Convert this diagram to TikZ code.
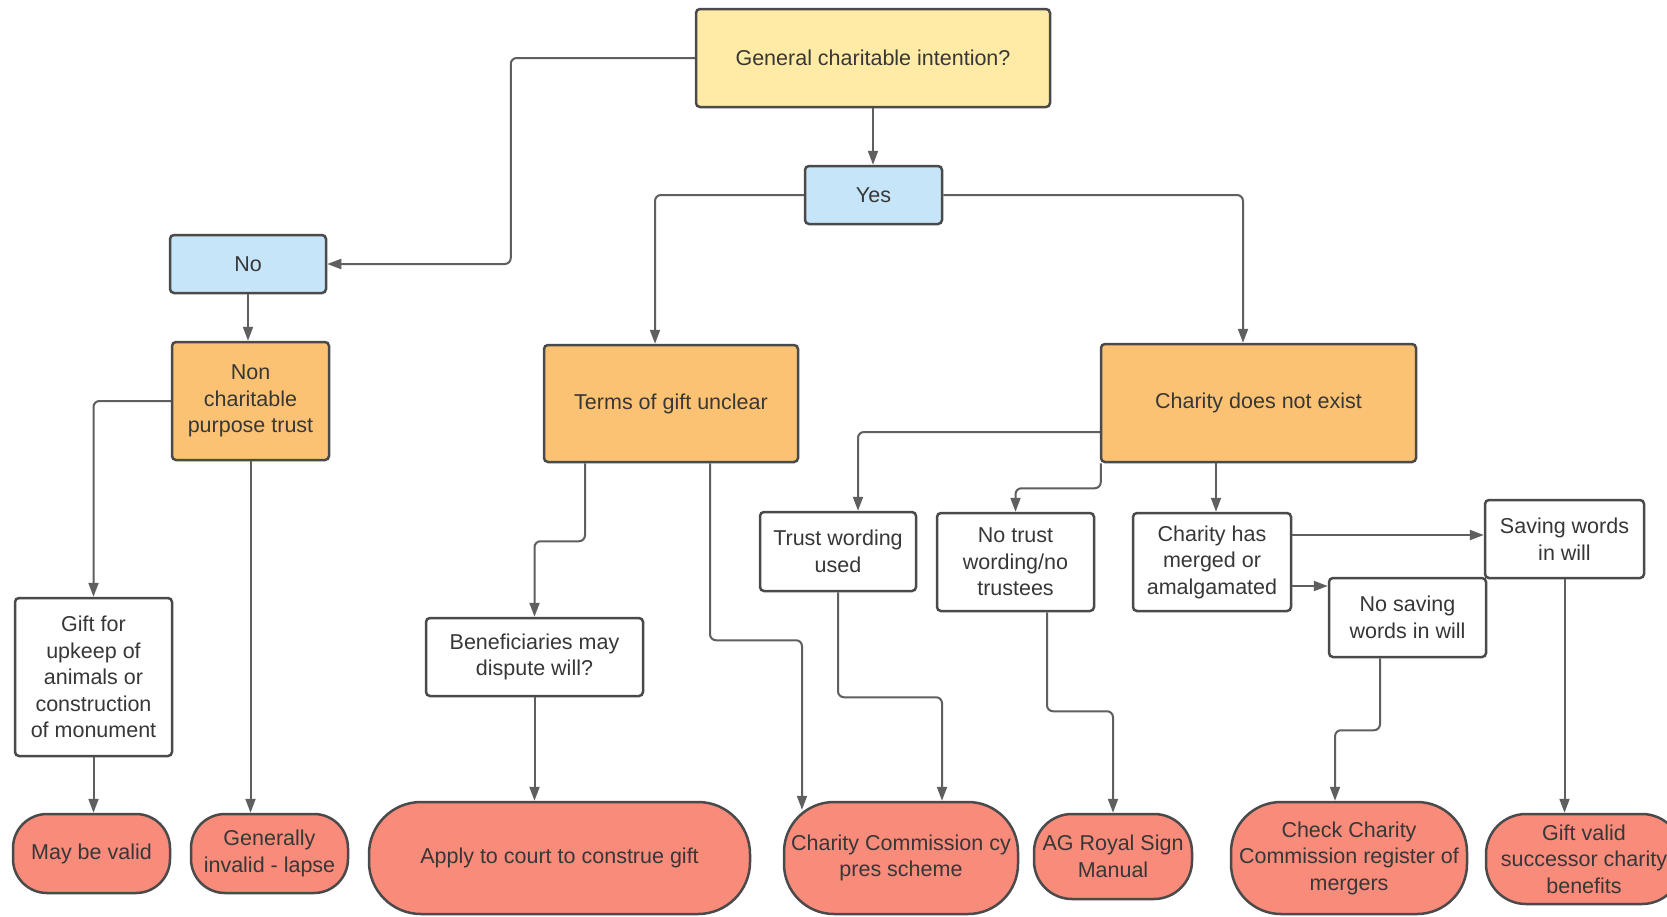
\documentclass[tikz,border=0pt]{standalone}
\usepackage{fontspec}
\setmainfont{Liberation Sans}
\usetikzlibrary{arrows.meta}
\definecolor{cyel}{RGB}{255,234,166}
\definecolor{cblue}{RGB}{199,229,248}
\definecolor{corange}{RGB}{252,194,115}
\definecolor{cred}{RGB}{249,139,123}
\definecolor{cline}{RGB}{74,74,74}
\definecolor{carrow}{RGB}{95,95,95}
\definecolor{ctext}{RGB}{55,55,55}
\tikzset{
  base/.style={draw=cline, line width=2.5pt, inner sep=0pt, align=center,
    text=ctext, font=\fontsize{21.5}{26.5}\selectfont},
  box/.style={base, rounded corners=4pt, fill=white},
  yelbox/.style={box, fill=cyel},
  bluebox/.style={box, fill=cblue},
  orabox/.style={box, fill=corange},
  term/.style={base, fill=cred},
  conn/.style={draw=carrow, line width=2pt, rounded corners=6pt,
    -{Triangle[length=14pt,width=10pt]}},
}
\begin{document}
\begin{tikzpicture}[x=1pt,y=-1pt]
\useasboundingbox[fill=white] (0,0) rectangle (1667,916);
% decision / process boxes
\node[yelbox, minimum width=354pt, minimum height=98pt] (gen) at (873,58) {General charitable intention?};
\node[bluebox, minimum width=137pt, minimum height=58pt] (yes) at (873.5,195) {Yes};
\node[bluebox, minimum width=156pt, minimum height=58pt] (no) at (248,264) {No};
\node[orabox, minimum width=157pt, minimum height=118pt] (nc) at (250.5,401) {Non\\charitable\\purpose trust};
\node[orabox, minimum width=254pt, minimum height=117pt] (terms) at (671,403.5) {Terms of gift unclear};
\node[orabox, minimum width=315pt, minimum height=118pt] (cdne) at (1258.5,403) {Charity does not exist};
\node[box, minimum width=157pt, minimum height=158pt] (gift) at (93.5,677) {Gift for\\upkeep of\\animals or\\construction\\of monument};
\node[box, minimum width=217pt, minimum height=78pt] (bene) at (534.5,657) {Beneficiaries may\\dispute will?};
\node[box, minimum width=156pt, minimum height=79pt] (tw) at (838,551.5) {Trust wording\\used};
\node[box, minimum width=157pt, minimum height=98pt] (ntw) at (1015.5,562) {No trust\\wording/no\\trustees};
\node[box, minimum width=158pt, minimum height=98pt] (merged) at (1212,562) {Charity has\\merged or\\amalgamated};
\node[box, minimum width=159pt, minimum height=78pt] (saving) at (1564.5,539) {Saving words\\in will};
\node[box, minimum width=157pt, minimum height=79pt] (nosaving) at (1407.5,617.5) {No saving\\words in will};
% terminals
\node[term, rounded corners=34pt, minimum width=157pt, minimum height=79pt] (valid) at (91.5,853.5) {May be valid};
\node[term, rounded corners=34pt, minimum width=157pt, minimum height=79pt] (invalid) at (269.5,853.5) {Generally\\invalid - lapse};
\node[term, rounded corners=52pt, minimum width=381pt, minimum height=112pt] (court) at (559.5,858) {Apply to court to construe gift};
\node[term, rounded corners=50pt, minimum width=234pt, minimum height=112pt] (ccy) at (901,858) {Charity Commission cy\\pres scheme};
\node[term, rounded corners=38pt, minimum width=158pt, minimum height=85pt] (ag) at (1113,856.5) {AG Royal Sign\\Manual};
\node[term, rounded corners=50pt, minimum width=236pt, minimum height=112pt] (check) at (1349,858) {Check Charity\\Commission register of\\mergers};
\node[term, rounded corners=40pt, minimum width=196pt, minimum height=90pt] (giftvalid) at (1584,859) {Gift valid\\successor charity\\benefits};
% connectors
\draw[conn] (gen.west) -- ++(-184,0) |- (no.east);
\draw[conn] (gen.south) -- (gen.south |- yes.north);
\draw[conn] (yes.west) -| ([xshift=-16pt]terms.north);
\draw[conn] (yes.east) -| ([xshift=-15.5pt]cdne.north);
\draw[conn] (no.south) -- (no.south |- nc.north);
\draw[conn] (nc.west) -| (gift.north);
\draw[conn] (nc.south) -- (nc.south |- invalid.north);
\draw[conn] (gift.south) -- (gift.south |- valid.north);
\draw[conn] ([xshift=-86pt]terms.south) -- ++(0,78) -| (bene.north);
\draw[conn] ([xshift=39pt]terms.south) -- ++(0,177) -| ([xshift=-99pt,yshift=-9pt]ccy.north);
\draw[conn] (bene.south) -- (bene.south |- court.north);
\draw[conn] ([yshift=-29pt]cdne.west) -| ([xshift=20pt]tw.north);
\draw[conn] ([xshift=1pt]cdne.south west) -- ++(0,25) -| (ntw.north);
\draw[conn] ([xshift=-42.5pt]cdne.south) -- ([xshift=-42.5pt]cdne.south |- merged.north);
\draw[conn] (tw.south) -- ++(0,105) -| ([xshift=41pt]ccy.north);
\draw[conn] ([xshift=31.5pt]ntw.south) -- ++(0,99) -| (ag.north);
\draw[conn] ([yshift=27pt]merged.east) -- ([yshift=27pt]merged.east -| saving.west);
\draw[conn] ([yshift=-24pt]merged.east) -- ([yshift=-24pt]merged.east -| nosaving.west);
\draw[conn] ([xshift=-27.5pt]nosaving.south) -- ++(0,72) -| ([xshift=-14pt]check.north);
\draw[conn] (saving.south) -- (saving.south |- giftvalid.north);
\end{tikzpicture}
\end{document}
